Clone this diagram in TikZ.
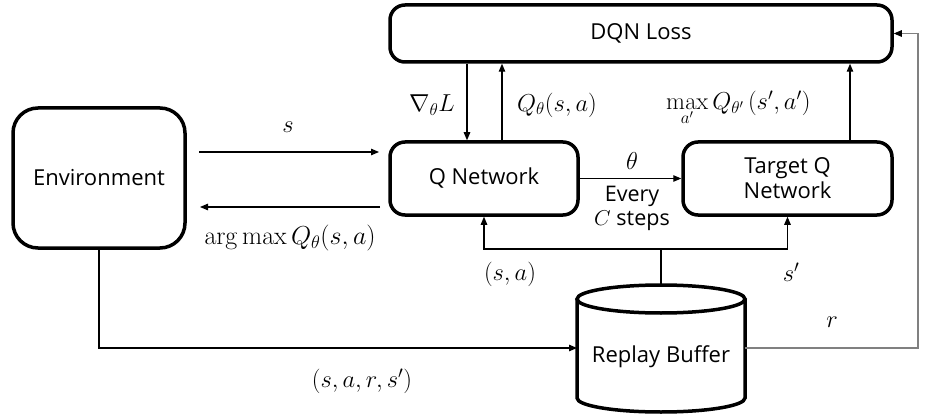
\RequirePackage{fix-cm}
\documentclass[tikz,border=0pt]{standalone}
\usepackage[no-math]{fontspec}
\setmainfont{Open Sans}
\usetikzlibrary{arrows.meta}
\begin{document}
\begin{tikzpicture}[x=1pt,y=-1pt,
  box/.style={draw, line width=3.5pt, rounded corners=#1, inner sep=0pt, align=center,
    font=\fontsize{22}{29}\selectfont},
  box/.default=15pt,
  arr/.style={line width=1.1pt, -{Triangle[length=8pt,width=6.5pt]}},
  ln/.style={line width=1.1pt},
  garr/.style={line width=1.1pt, draw=black!50, -{Triangle[length=8pt,width=6.5pt,fill=black,color=black]}},
  lbl/.style={inner sep=0pt, font=\fontsize{24.5}{28}\selectfont},
  txt/.style={inner sep=0pt, font=\fontsize{21.5}{25}\selectfont}]
\useasboundingbox (0,0) rectangle (929,417);
% nodes
\node[box, minimum width=502pt, minimum height=57pt] (loss) at (641,33.5) {DQN Loss};
\node[box=25pt, minimum width=172pt, minimum height=140pt] (env) at (99,178) {Environment};
\node[box, minimum width=188pt, minimum height=73pt] (qnet) at (484,178.5) {Q Network};
\node[box, minimum width=209pt, minimum height=73pt] (tgt) at (787.5,178.5) {Target Q\\[-4pt]Network};
% replay buffer (cylinder)
\coordinate (bufN) at (661,285);
\coordinate (bufW) at (577,348);
\coordinate (bufE) at (745,348);
\draw[line width=3.5pt] (661,299) ellipse [x radius=84, y radius=14];
\draw[line width=3.5pt] (577,299) -- (577,398)
  .. controls (577,405.73) and (614.6,412) .. (661,412)
  .. controls (707.4,412) and (745,405.73) .. (745,398) -- (745,299);
\node[txt, font=\fontsize{22}{25}\selectfont] (buf) at (661,357) {Replay Buffer};
% helper coordinates
\coordinate (sA) at (199,152); \coordinate (sB) at (379,152);
\coordinate (aA) at (380,207); \coordinate (aB) at (200,207);
\coordinate (gx) at (467,0); \coordinate (qx) at (502,0); \coordinate (tx) at (850,0);
\coordinate (split) at (661,249);
\coordinate (rc) at (918,200);
% connectors
\draw[arr] (sA) -- (sB);
\draw[arr] (aA) -- (aB);
\draw[arr] (loss.south -| gx) -- (qnet.north -| gx);
\draw[arr] (qnet.north -| qx) -- (loss.south -| qx);
\draw[arr] (tgt.north -| tx) -- (loss.south -| tx);
\draw[arr] (qnet.east) -- (tgt.west);
\draw[ln] (bufN) -- (split);
\draw[arr] (split) -| (qnet.south);
\draw[arr] (split) -| (tgt.south);
\draw[arr] (env.south) |- (bufW);
\draw[garr] (bufE) -| (rc) |- (loss.east);
% labels
\node[lbl] (ls) at (288,127) {$s$};
\node[lbl, font=\fontsize{26}{30}\selectfont] (la) at (290,238) {$\arg\max Q_\theta(s,a)$};
\node[lbl] (lg) at (432,105) {$\nabla_\theta L$};
\node[lbl] (lq) at (557,105) {$Q_\theta(s,a)$};
\node[lbl, anchor=north west] (lm) at (666,91) {$\max\limits_{a'} Q_{\theta'}\,(s',a')$};
\node[lbl] (lt) at (632,161) {$\theta$};
\node[txt] (le) at (632,196) {Every};
\node[txt] (lc) at (632,221) {$C$ steps};
\node[lbl] (lsa) at (510,274) {$(s,a)$};
\node[lbl] (lsp) at (791,272) {$s'$};
\node[lbl] (lr) at (832,322) {$r$};
\node[lbl] (lt4) at (362,381) {$(s,a,r,s')$};
\end{tikzpicture}
\end{document}
